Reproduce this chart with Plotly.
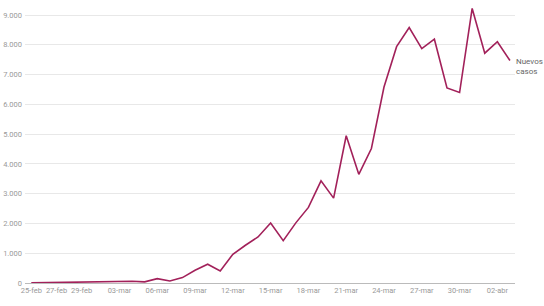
import plotly.graph_objects as go

dates = ["25-feb", "26-feb", "27-feb", "28-feb", "29-feb",
         "01-mar", "02-mar", "03-mar", "04-mar", "05-mar", "06-mar", "07-mar", "08-mar", "09-mar",
         "10-mar", "11-mar", "12-mar", "13-mar", "14-mar", "15-mar", "16-mar", "17-mar", "18-mar",
         "19-mar", "20-mar", "21-mar", "22-mar", "23-mar", "24-mar", "25-mar", "26-mar", "27-mar",
         "28-mar", "29-mar", "30-mar", "31-mar", "01-abr", "02-abr", "03-abr"]
nuevos_casos = [3, 10, 5, 17, 13,
                39, 36, 45, 57, 37, 145, 67, 181, 427,
                629, 403, 965, 1267, 1547, 2017, 1420, 2020, 2538,
                3431, 2850, 4946, 3650, 4517, 6584, 7937, 8578, 7871,
                8189, 6549, 6398, 9222, 7719, 8102, 7472]
tick_labels = ["25-feb", "27-feb", "29-feb", "03-mar", "06-mar", "09-mar", "12-mar",
               "15-mar", "18-mar", "21-mar", "24-mar", "27-mar", "30-mar", "02-abr"]
y_ticks = [0, 1000, 2000, 3000, 4000, 5000, 6000, 7000, 8000, 9000]
series_name = "Nuevos casos"

color = "#a2215a"

fig = go.Figure()
fig.add_trace(go.Scatter(
    x=dates, y=nuevos_casos, mode="lines", name=series_name,
    line=dict(color=color, width=1.6), hoverinfo="x+y",
))

fig.add_annotation(
    x=dates[-1], y=nuevos_casos[-1], text="Nuevos<br>casos", showarrow=False,
    xanchor="left", yanchor="middle", xshift=4, yshift=-6, align="left",
    font=dict(size=8, color="#666666"),
)

fig.update_layout(
    width=544, height=306,
    margin=dict(l=25, r=29, t=5, b=23, autoexpand=False),
    paper_bgcolor="white", plot_bgcolor="white",
    showlegend=False,
    separators=",.",
    font=dict(family="Roboto, sans-serif", size=8, color="#999999"),
    xaxis=dict(
        type="category", range=[-0.5, 38.4],
        tickmode="array", tickvals=tick_labels, ticktext=tick_labels,
        tickangle=0, automargin=False,
        showgrid=False, showline=True, linecolor="#bbbbbb", linewidth=1,
        ticks="", tickfont=dict(size=7.5, color="#999999"),
    ),
    yaxis=dict(
        range=[0, 9337], tickvals=y_ticks, tickformat=",d",
        automargin=False,
        showgrid=True, gridcolor="#e8e8e8", gridwidth=1,
        zeroline=False, showline=False, ticks="",
        ticklabelstandoff=2,
        tickfont=dict(size=7.5, color="#999999"),
    ),
)

fig.write_html("out.html")
